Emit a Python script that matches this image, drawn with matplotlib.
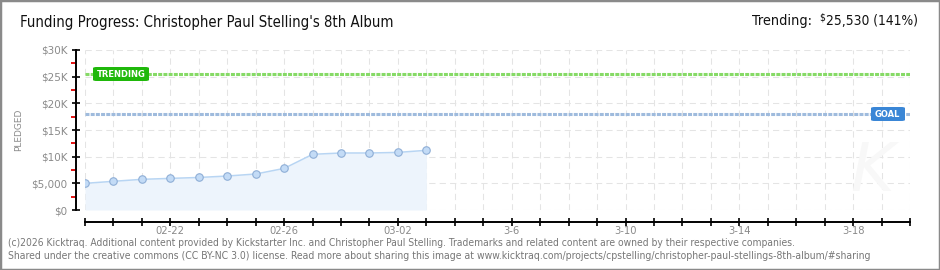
#!/usr/bin/env python

import numpy as np
import matplotlib
matplotlib.use("Agg")
import matplotlib.pyplot as plt
from matplotlib.patches import FancyBboxPatch, Rectangle

# data (pledged dollars per day, starting 02-19)
days = list(range(13))
pledged = [5000, 5380, 5750, 5930, 6100, 6370, 6750, 7800, 10440, 10690, 10690, 10800, 11190]
goal = 18000
trending = 25530
n_days = 29  # axis runs 02-19 .. 03-20

x_tick_pos = [3, 7, 11, 15, 19, 23, 27]
x_tick_labels = ["02-22", "02-26", "03-02", "3-6", "3-10", "3-14", "3-18"]
y_tick_pos = [0, 5000, 10000, 15000, 20000, 25000, 30000]
y_tick_labels = ["$0", "$5,000", "$10K", "$15K", "$20K", "$25K", "$30K"]

title = "Funding Progress: Christopher Paul Stelling's 8th Album"
trend_label = "Trending:"
trend_value = "25,530 (141%)"
footer1 = ("(c)2026 Kicktraq. Additional content provided by Kickstarter Inc. and Christopher Paul Stelling. "
           "Trademarks and related content are owned by their respective companies.")
footer2 = ("Shared under the creative commons (CC BY-NC 3.0) license. Read more about sharing this image at "
           "www.kicktraq.com/projects/cpstelling/christopher-paul-stellings-8th-album/#sharing")

W, H = 940, 270
fig = plt.figure(figsize=(W / 100, H / 100), dpi=100)
fig.patch.set_facecolor("white")
renderer = fig.canvas.get_renderer()

def fit_text(x, y, s, width, size, **kw):
    ''' place a text and shrink/grow it horizontally to a target pixel width '''
    t = fig.text(x / W, 1 - y / H, s, fontsize=size, **kw)
    w = t.get_window_extent(renderer).width
    t.set_fontsize(size * width / w)
    return t

# plot area: x 85..910, y 50..210 px
ax = fig.add_axes([85 / W, 1 - 210 / H, 825 / W, 160 / H])
ax.set_xlim(0, n_days)
ax.set_ylim(0, 30000)

px = 0.72  # points per pixel

# grid
for d in range(n_days + 1):
    ax.axvline(d, color="#e4e4e4", lw=0.75, ls=(0, (6, 4)), zorder=0)
for v in y_tick_pos:
    ax.axhline(v, color="#e4e4e4", lw=0.75, ls=(0, (6, 4)), zorder=0)

# pledged series
ax.fill_between(days, pledged, 0, color="#edf4fc", zorder=1, lw=0)
ax.plot(days, pledged, color="#b8d5f3", lw=1.1, zorder=2)
ax.plot(days, pledged, ls="none", marker="o", ms=5.4, mfc="#c3dbf6", mec="#8eaed6", mew=0.8, zorder=3)

# trending / goal lines
ax.axhline(trending, color="#86da66", lw=2.2, ls=(0, (1.3, 0.4)), zorder=2)
ax.axhline(goal, color="#9fbbdd", lw=2.2, ls=(0, (1.3, 0.4)), zorder=2)

# spines
for s in ["top", "right"]:
    ax.spines[s].set_visible(False)
ax.spines["left"].set_position(("outward", 9 * px))
ax.spines["bottom"].set_position(("outward", 12 * px))
ax.spines["bottom"].set_bounds(0, n_days)
ax.spines["left"].set_linewidth(1.4)
ax.spines["bottom"].set_linewidth(1.4)

ax.set_xticks(range(n_days + 1))
ax.set_xticklabels(["" if d not in x_tick_pos else x_tick_labels[x_tick_pos.index(d)] for d in range(n_days + 1)])
ax.set_yticks(y_tick_pos)
ax.set_yticklabels(y_tick_labels)
ax.set_yticks([2500, 7500, 12500, 17500, 22500, 27500], minor=True)
ax.tick_params(axis="y", which="major", direction="inout", length=6, width=1.2, colors="black",
               labelcolor="#8a8a8a", labelsize=7.5, pad=3)
ax.tick_params(axis="y", which="minor", direction="out", length=3.5, width=1.3, color="#e00000")
ax.tick_params(axis="x", which="major", direction="inout", length=6, width=1.2, colors="black",
               labelcolor="#8a8a8a", labelsize=7.2, pad=0)
ax.set_ylabel("PLEDGED", color="#8a8a8a", fontsize=6.5)
ax.yaxis.set_label_coords(-62 / 825, 0.5)

# labels on lines
def tag(x0, y0, x1, y1, text, color):
    box = FancyBboxPatch((x0 / W, 1 - y1 / H), (x1 - x0) / W, (y1 - y0) / H,
                         boxstyle="round,pad=0,rounding_size=0.004", transform=fig.transFigure,
                         fc=color, ec="none", zorder=5)
    fig.patches.append(box)
    fig.text((x0 + 4) / W, 1 - (y0 + y1) / 2 / H, text, color="white", fontsize=6, fontweight="bold",
             va="center", ha="left", zorder=6)

tag(93, 67, 149, 81, "TRENDING", "#1fb80a")
tag(871, 107, 905, 121, "GOAL", "#3a86d6")

# faint watermark
fig.text(872 / W, 1 - 172 / H, "K", fontsize=48, color="#f8f8f8", style="italic",
         ha="center", va="center", zorder=0)

# titles and footer
ink = dict(color="#111111", va="center", fontstretch="condensed")
fit_text(20, 23, title, 372, 11, ha="left", **ink)
fit_text(918, 21, trend_value, 92, 11, ha="right", **ink)
fig.text(825 / W, 1 - 17 / H, "$", fontsize=7.5, ha="right", **ink)
fit_text(812, 21, trend_label, 60, 11, ha="right", **ink)
grey = dict(color="#777777", va="center", ha="left", fontstretch="condensed")
fit_text(8, 243, footer1, 789, 6.5, **grey)
fit_text(8, 256, footer2, 864, 6.5, **grey)

# frame around image
fig.patches.append(Rectangle((0, 0), 1, 1, transform=fig.transFigure, fill=False,
                             ec="#8a8a8a", lw=2.5, zorder=10))

fig.savefig("out.png", dpi=100)
